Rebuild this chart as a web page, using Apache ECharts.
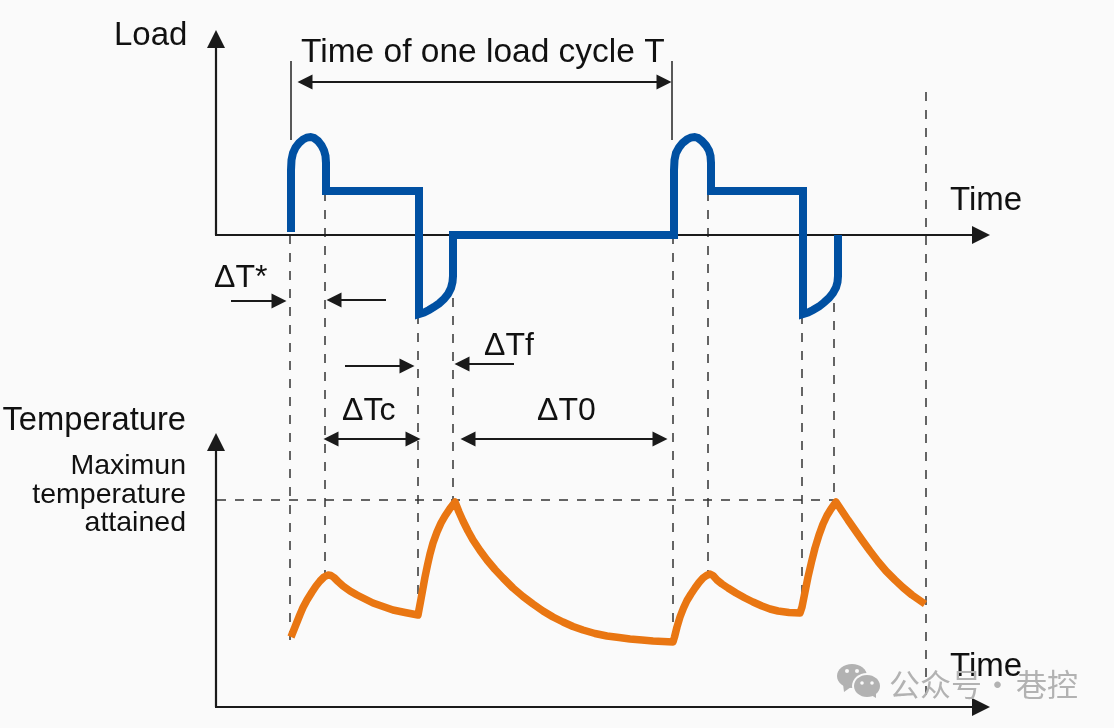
<!DOCTYPE html>
<html>
<head>
<meta charset="utf-8">
<style>
  html, body { margin: 0; padding: 0; background: #fafafa; }
  #chart { width: 1114px; height: 728px; }
</style>
<script src="https://cdn.jsdelivr.net/npm/echarts@6/dist/echarts.min.js"></script>
</head>
<body>
<div id="chart"></div>
<script>
// load curve
var loadTime = [76, 76, 76.5, 78, 80.5, 84, 88, 92, 95.5, 99, 103, 106.5, 109, 110.5, 111, 111,
  204, 204, 209, 214, 219, 224, 229, 233, 236, 237.5, 238, 238,
  459, 459, 459.5, 461, 464, 467.5, 472, 476, 479.5, 483, 487, 491, 494, 495.5, 496, 496,
  588, 588, 593, 598, 604, 609, 614, 618, 621, 622.5, 623, 623];
var loadValue = [3, 65, 75, 82, 87.5, 92, 95.5, 97.5, 98, 97, 94, 89.5, 84.5, 79, 72, 44,
  44, -79, -77.5, -75, -72, -68.5, -64, -59, -53, -47, -41, 0,
  0, 65, 75, 82, 87.5, 92, 95.5, 97.5, 98, 97, 94, 89.5, 84.5, 79, 72, 44,
  44, -79, -77.5, -75, -71.5, -67.5, -63, -58, -52.5, -47, -41, 0];

// temperature curve
var tempTime = [76, 79, 82, 85, 88, 92, 97, 101, 105, 109, 113,
  116, 119, 123, 128, 135, 142, 150, 158, 168, 178, 190, 203,
  204.5, 206, 208, 210, 212.5, 215, 218, 222, 226, 230, 235, 240,
  244, 248, 253, 258, 265, 272, 280, 288, 298, 308, 318, 328, 338, 348, 358, 368, 380, 392, 404, 415, 427, 438, 448, 458,
  459.5, 462, 465, 468.5, 472, 476, 480, 484, 488, 491.5, 495,
  498, 502, 507, 513, 521, 530, 538, 547, 555, 563, 574, 585,
  587, 590, 593, 596.5, 600, 604, 608, 612, 616, 621,
  627, 633, 640, 647, 655, 663, 671, 680, 688, 697, 710];
var tempValue = [70, 77.5, 85, 92.5, 99.5, 107, 115, 121, 126, 130, 132,
  131.5, 129.5, 125.5, 121, 116, 112, 108, 104, 100.5, 97, 94.5, 92,
  100, 108, 119, 130, 142, 153, 164, 175, 184, 191, 198.5, 205,
  195, 186, 176, 167, 156.5, 147, 137.5, 129, 119, 110.5, 103, 96, 90, 85, 80.5, 77, 73.5, 71, 69.5, 68, 67, 66, 65.5, 65,
  70, 80, 90, 99, 106.5, 113, 119, 124.5, 129, 131.5, 133,
  131.5, 127, 123, 119, 114, 109, 105, 101, 98, 96, 94.5, 94,
  100, 115, 130, 145, 159, 172, 183, 191.5, 198, 205,
  196, 187, 177, 167, 156, 145.5, 136, 127, 119.5, 112, 103];

// dashed guides, on the load scale: time, from, to
var guideTime = [75, 110, 203, 238, 458, 493, 587, 619, 711];
var guideFrom = [0, 43, -80, -45, 0, 43, -80, -50, 143];
var guideTo = [-405, -340, -380, -267, -405, -340, -377, -267, -465];

var cycleStart = 76;
var cycleEnd = 457;
var labels = {
  load: 'Load', time: 'Time', temperature: 'Temperature', cycle: 'Time of one load cycle T',
  max: ['Maximun', 'temperature', 'attained'],
  dStar: '\u0394T*', dF: '\u0394Tf', dC: '\u0394Tc', d0: '\u0394T0'
};

var chart = echarts.init(document.getElementById('chart'));

function zip(a, b) {
  return a.map(function (v, i) { return [v, b[i]]; });
}
function seg(x1, y1, x2, y2, s1, s2) {
  return [
    { coord: [x1, y1], symbol: s1 || 'none' },
    { coord: [x2, y2], symbol: s2 || 'none' }
  ];
}
function marks(yIndex, color, width, type, size, lines) {
  return {
    type: 'line', xAxisIndex: 0, yAxisIndex: yIndex, data: [], clip: false, silent: true,
    markLine: {
      silent: true, animation: false, precision: 2, symbolSize: size,
      label: { show: false },
      lineStyle: { color: color, width: width, type: type, opacity: 1 },
      emphasis: { disabled: true },
      data: lines
    }
  };
}
function txt(x, y, str, size, align) {
  return {
    type: 'text', x: x, y: y, z: 20, silent: true,
    style: {
      text: str, fill: '#111', textAlign: align || 'left', textVerticalAlign: 'middle',
      font: size + 'px "Liberation Sans", Arial, sans-serif'
    }
  };
}
function mark(x, y, str) {
  return {
    type: 'text', x: x, y: y, z: 30, silent: true,
    style: {
      text: str, fill: '#b2b2b2', textAlign: 'left', textVerticalAlign: 'middle',
      font: '31px "Noto Sans CJK SC", sans-serif'
    }
  };
}
function blob(shape, fill) {
  return { type: shape.type, z: 30, silent: true, shape: shape.s, style: { fill: fill } };
}

var guides = guideTime.map(function (t, i) { return seg(t, guideFrom[i], t, guideTo[i]); });
guides.push(seg(2, -265, 621, -265));

var option = {
  backgroundColor: '#fafafa',
  animation: false,
  grid: { left: 215, top: 30, width: 775, height: 677 },
  // one unit on each axis is one pixel; load zero sits 205 below the top, temperature zero at the bottom
  xAxis: [{ type: 'value', min: 0, max: 775, show: false }],
  yAxis: [
    { type: 'value', min: -472, max: 205, show: false },
    { type: 'value', min: 0, max: 677, show: false }
  ],
  series: [
    marks(0, '#333', 1.5, [9, 9], 1, guides),
    marks(0, '#222', 1.5, 'solid', 1, [
      seg(cycleStart, 174, cycleStart, 95),
      seg(cycleEnd, 174, cycleEnd, 95)
    ]),
    // axes
    marks(0, '#1a1a1a', 2.2, 'solid', 18, [
      seg(1, 0, 1, 196, 'none', 'triangle'),
      seg(0, 0, 766, 0, 'none', 'triangle')
    ]),
    marks(1, '#1a1a1a', 2.2, 'solid', 18, [
      seg(1, 0, 1, 265, 'none', 'triangle'),
      seg(0, 0, 766, 0, 'none', 'triangle')
    ]),
    // dimension arrows
    marks(0, '#1a1a1a', 1.8, 'solid', 15, [
      seg(cycleStart + 14, 153, cycleEnd - 8, 153, 'triangle', 'triangle'),
      seg(16, -66, 64, -66, 'none', 'triangle'),
      seg(171, -65, 119, -65, 'none', 'triangle'),
      seg(130, -131, 192, -131, 'none', 'triangle'),
      seg(299, -129, 247, -129, 'none', 'triangle'),
      seg(116, -204, 198, -204, 'triangle', 'triangle'),
      seg(253, -204, 445, -204, 'triangle', 'triangle')
    ]),
    {
      type: 'line', xAxisIndex: 0, yAxisIndex: 1, data: zip(tempTime, tempValue),
      showSymbol: false, clip: false, silent: true, z: 5,
      lineStyle: { color: '#e97612', width: 7.5, cap: 'butt', join: 'round' }
    },
    {
      type: 'line', xAxisIndex: 0, yAxisIndex: 0, data: zip(loadTime, loadValue),
      showSymbol: false, clip: false, silent: true, z: 5,
      lineStyle: { color: '#0050a2', width: 8, cap: 'butt', join: 'miter', miterLimit: 6 }
    }
  ],
  graphic: [
    txt(114, 36, labels.load, 33),
    txt(301, 53, labels.cycle, 33.5),
    txt(950, 201, labels.time, 33),
    txt(950, 667, labels.time, 33),
    txt(186, 421, labels.temperature, 32.7, 'right'),
    txt(186, 466, labels.max[0], 28.5, 'right'),
    txt(186, 495, labels.max[1], 28.5, 'right'),
    txt(186, 523, labels.max[2], 28.5, 'right'),
    txt(214, 278, labels.dStar, 32),
    txt(484, 346, labels.dF, 32),
    txt(342, 411, labels.dC, 32),
    txt(537, 411, labels.d0, 32),
    // watermark
    blob({ type: 'ellipse', s: { cx: 852, cy: 676, rx: 15, ry: 12 } }, '#b2b2b2'),
    blob({ type: 'polygon', s: { points: [[843, 684], [844, 692], [851, 687]] } }, '#b2b2b2'),
    blob({ type: 'circle', s: { cx: 847, cy: 671, r: 2 } }, '#fafafa'),
    blob({ type: 'circle', s: { cx: 857, cy: 671, r: 2 } }, '#fafafa'),
    blob({ type: 'ellipse', s: { cx: 867, cy: 686, rx: 15, ry: 13 } }, '#fafafa'),
    blob({ type: 'ellipse', s: { cx: 867, cy: 686, rx: 13, ry: 11 } }, '#b2b2b2'),
    blob({ type: 'polygon', s: { points: [[871, 695], [876, 698], [876, 692]] } }, '#b2b2b2'),
    blob({ type: 'circle', s: { cx: 862, cy: 683, r: 1.8 } }, '#fafafa'),
    blob({ type: 'circle', s: { cx: 872, cy: 683, r: 1.8 } }, '#fafafa'),
    mark(889, 684, '\u516c\u4f17\u53f7'),
    mark(982, 684, '\u00b7'),
    mark(1016, 684, '\u5df7\u63a7')
  ]
};
chart.setOption(option);
</script>
</body>
</html>
